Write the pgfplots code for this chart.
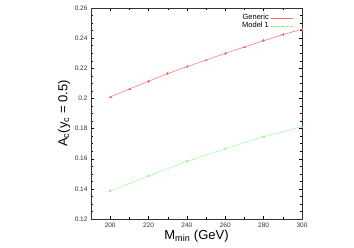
\documentclass[border=0pt]{standalone}
\usepackage{fontspec}
\setmainfont{Liberation Sans}
\usepackage{pgfplots}
\pgfplotsset{compat=1.18}
\usetikzlibrary{calc}
\definecolor{gred}{rgb}{1,0.42,0.42}
\definecolor{ggreen}{rgb}{0.45,0.95,0.45}
\begin{document}
\begin{tikzpicture}
\begin{axis}[
  scale only axis, width=211pt, height=211pt,
  xmin=190, xmax=300, ymin=0.12, ymax=0.26,
  xtick={200,220,...,300}, minor x tick num=1,
  ytick={0.12,0.14,...,0.261}, minor y tick num=3,
  tick align=inside, major tick length=3pt, minor tick length=1.6pt,
  tick style={black, line width=0.4pt},
  axis line style={line width=0.6pt, black!80},
  /pgf/number format/assume math mode=true,
  yticklabel style={/pgf/number format/fixed, /pgf/number format/precision=2},
  xticklabel style={/pgf/number format/fixed},
  tick label style={font=\fontsize{6.5}{7}\selectfont, text=black!80},
  xlabel={M\textsubscript{min} (GeV)},
  ylabel={A\textsubscript{c}(y\textsubscript{c} = 0.5)},
  label style={font=\fontsize{13}{15}\selectfont},
  xlabel style={yshift=4pt},
  ylabel style={yshift=-2pt},
  legend style={draw=none, fill=none, at={(rel axis cs:0.965,0.985)}, anchor=north east,
    font=\fontsize{7.5}{8}\selectfont, row sep=-3pt, inner sep=1pt},
  legend cell align=right, legend plot pos=right,
  legend image code/.code={\draw[#1, mark=none] (0pt,0pt) -- (22pt,0pt);},
  clip=false,
]
\addplot[gred, line width=0.5pt, mark=+, mark size=1.4pt] coordinates {
(200,0.2009) (210,0.2063) (220,0.2114) (230,0.2164) (240,0.2211) (250,0.2255)
(260,0.2299) (270,0.2341) (280,0.2383) (290,0.2423) (300,0.2459)};
\addlegendentry{Generic}
\addplot[ggreen, line width=0.5pt, dash pattern=on 1.5pt off 1pt, mark=x, mark size=1.4pt, mark options={solid}] coordinates {
(200,0.1386) (220,0.1485) (240,0.1583) (260,0.1667) (280,0.1746) (300,0.1812)};
\addlegendentry{Model 1}
\end{axis}
\pgfresetboundingbox
\path ($(current axis.south west)+(-91pt,-29pt)$) rectangle ($(current axis.north east)+(52pt,8pt)$);
\end{tikzpicture}
\end{document}
